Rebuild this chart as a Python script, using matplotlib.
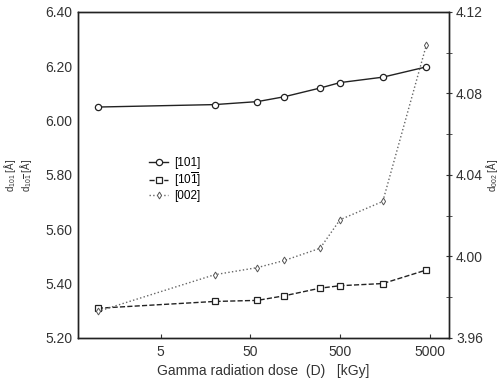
import matplotlib.pyplot as plt
import numpy as np
from matplotlib.ticker import FixedLocator, NullLocator, FormatStrFormatter

plt.rcParams["font.family"] = ["Liberation Sans", "DejaVu Sans"]
plt.rcParams["mathtext.fontset"] = "custom"
plt.rcParams["mathtext.rm"] = "Liberation Sans"
plt.rcParams["mathtext.it"] = "Liberation Sans"

# dose in kGy
dose = [1, 20, 60, 120, 300, 500, 1500, 4600]
d101 = [6.050, 6.059, 6.070, 6.088, 6.120, 6.140, 6.160, 6.198]
d10m1 = [5.309, 5.334, 5.338, 5.355, 5.383, 5.392, 5.400, 5.450]
d002 = [3.973, 3.991, 3.9945, 3.998, 4.004, 4.018, 4.027, 4.104]

xticks = [5, 50, 500, 5000]
left_ticks = [5.20, 5.40, 5.60, 5.80, 6.00, 6.20, 6.40]
right_ticks = [3.96, 4.00, 4.04, 4.08, 4.12]

fig = plt.figure(figsize=(5, 3.87), dpi=100)
ax1 = fig.add_axes([0.156, 0.127, 0.742, 0.842])
ax2 = ax1.twinx()

l1 = ax1.plot(dose, d101, '-', color='#222222', lw=1.0, marker='o', ms=4.5,
              mfc='white', mec='#222222', mew=0.9, label='[101]')
l2 = ax1.plot(dose, d10m1, '--', color='#222222', lw=1.0, marker='s', ms=4.5,
              mfc='white', mec='#222222', mew=0.9, label=r'[10$\overline{\mathrm{1}}$]')
l3 = ax2.plot(dose, d002, ':', color='#666666', lw=1.0, marker='d', ms=3.5,
              mfc='white', mec='#555555', mew=0.7, label='[002]')

ax1.set_xscale('log')
ax1.set_xlim(0.6, 8200)
ax1.set_ylim(5.20, 6.40)
ax2.set_ylim(3.96, 4.12)

ax1.xaxis.set_major_locator(FixedLocator(xticks))
ax1.xaxis.set_minor_locator(NullLocator())
ax1.set_xticklabels([str(t) for t in xticks])
ax1.yaxis.set_major_locator(FixedLocator(left_ticks))
ax1.yaxis.set_major_formatter(FormatStrFormatter('%.2f'))
ax2.yaxis.set_major_locator(FixedLocator(right_ticks))
ax2.yaxis.set_minor_locator(FixedLocator([3.98, 4.02, 4.06, 4.10]))
ax2.yaxis.set_major_formatter(FormatStrFormatter('%.2f'))

ax1.tick_params(axis='x', direction='in', length=3, labelsize=10, colors='#333333', pad=5)
ax1.tick_params(axis='y', direction='in', length=0, labelsize=10, colors='#333333', pad=4)
ax2.tick_params(axis='y', which='both', direction='inout', length=4, labelsize=10,
                colors='#333333', pad=3)

for ax in (ax1, ax2):
    for s in ax.spines.values():
        s.set_linewidth(1.0)
        s.set_color('#222222')

ax1.set_xlabel("Gamma radiation dose  (D)   [kGy]", fontsize=10, color='#333333', labelpad=4)
ax1.set_ylabel("d$_{101}$ [Å]\nd$_{10\\overline{\\mathrm{1}}}$ [Å]", fontsize=7,
               color='#333333', labelpad=8, linespacing=1.0)
ax2.set_ylabel("d$_{002}$ [Å]", fontsize=7, color='#333333', labelpad=1)

lines = l1 + l2 + l3
labels = []
for line in lines:
    labels.append(line.get_label())
ax1.legend(lines, labels, loc='upper left', bbox_to_anchor=(0.17, 0.58), frameon=False,
           fontsize=8.5, handlelength=1.6, handletextpad=0.5, labelspacing=0.1,
           borderpad=0.2)

fig.savefig('out.png', dpi=100)
